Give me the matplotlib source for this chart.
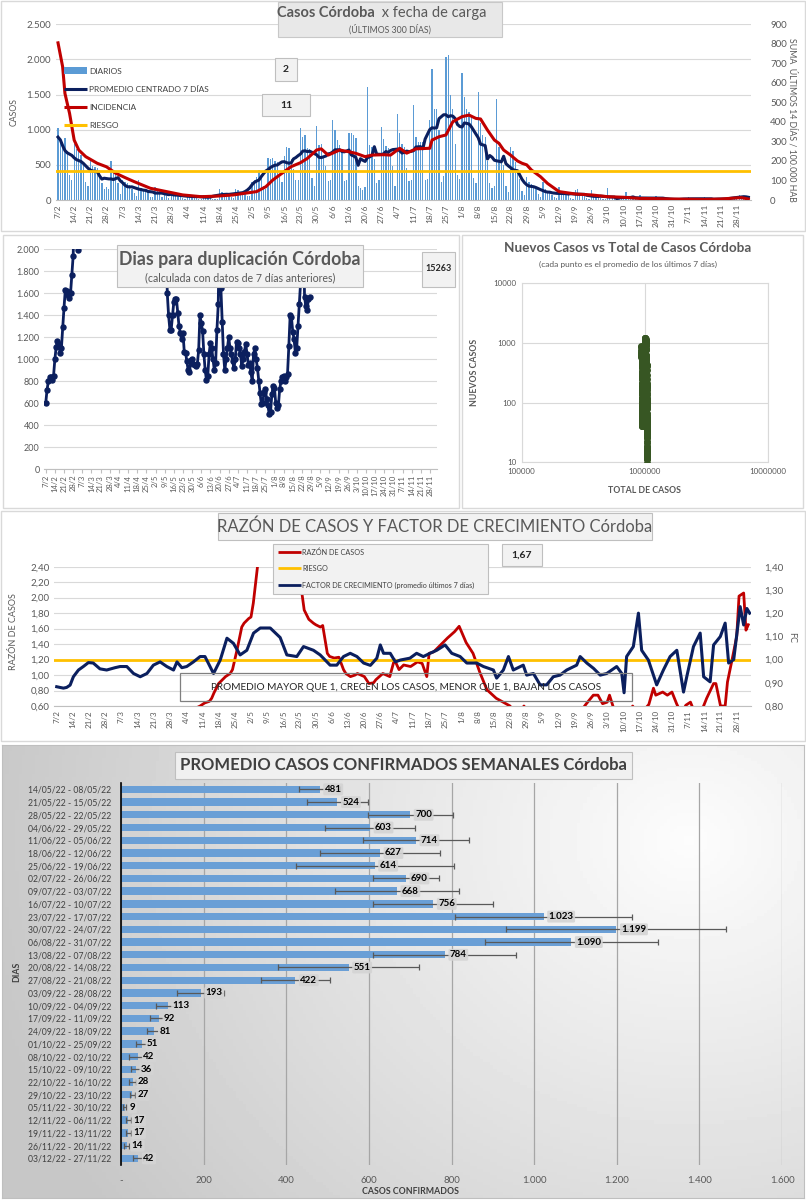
import numpy as np
import pandas as pd
import matplotlib
matplotlib.use('Agg')
import matplotlib.pyplot as plt
from matplotlib.patches import Rectangle
from matplotlib.lines import Line2D

plt.rcParams['font.family'] = ['Lato', 'DejaVu Sans']

W, H = 806, 1200

# %% data ---------------------------------------------------------------
start_date = '2022-02-07'

# casos diarios (fecha de carga), 300 dias desde 7/2
daily_cases = [
    1020, 850, 830, 880, 700, 360,
    290, 790, 720, 700, 640, 520, 260,
    200, 600, 480, 470, 450, 430, 240,
    150, 180, 160, 560, 420, 390, 240,
    90, 280, 250, 240, 220, 150, 100,
    60, 290, 170, 160, 150, 110, 40,
    40, 180, 150, 130, 40, 110, 50,
    25, 120, 95, 90, 80, 50, 30,
    20, 80, 70, 65, 60, 35, 20,
    15, 75, 60, 55, 35, 20, 20,
    20, 160, 110, 90, 80, 60, 40,
    30, 150, 140, 120, 110, 90, 60,
    60, 260, 290, 330, 420, 330, 200,
    150, 600, 590, 600, 560, 540, 327,
    250, 620, 760, 740, 580, 440, 278,
    280, 1020, 890, 930, 740, 730, 310,
    200, 1060, 780, 800, 630, 480, 271,
    280, 1140, 990, 850, 780, 690, 268,
    290, 960, 960, 930, 880, 200, 169,
    140, 180, 1610, 780, 760, 580, 248,
    290, 1040, 870, 770, 740, 640, 480,
    200, 1230, 960, 800, 760, 460, 266,
    280, 1350, 900, 830, 830, 820, 282,
    300, 1140, 1870, 1300, 1300, 1000, 251,
    340, 2040, 2060, 1500, 1300, 800, 353,
    300, 1800, 1470, 1300, 1250, 1200, 310,
    240, 1530, 1100, 920, 900, 560, 238,
    170, 200, 1440, 750, 600, 500, 197,
    110, 760, 700, 540, 420, 300, 124,
    70, 330, 260, 230, 200, 170, 91,
    40, 250, 150, 130, 110, 70, 41,
    30, 180, 120, 110, 100, 70, 34,
    20, 140, 150, 90, 80, 60, 27,
    15, 140, 60, 50, 45, 30, 17,
    10, 170, 40, 30, 25, 10, 9,
    8, 10, 120, 50, 35, 20, 9,
    6, 70, 40, 30, 25, 17, 8,
    5, 60, 40, 35, 25, 16, 8,
    2, 20, 12, 10, 10, 6, 3,
    3, 40, 25, 20, 15, 10, 6,
    3, 45, 22, 20, 15, 10, 4,
    2, 5, 35, 22, 18, 12, 4,
    10, 60, 70, 50, 45, 40, 19,
]

# incidencia 14 dias / 100.000 hab (eje derecho)
inc_days = [0, 2, 3, 5, 7, 9, 12, 17, 21, 25, 29, 33, 40, 47, 54, 62, 69, 76, 80, 86,
            90, 93, 97, 101, 105, 108, 112, 114, 117, 122, 126, 129, 133, 136, 141, 144,
            148, 151, 155, 161, 162, 165, 168, 171, 175, 178, 181, 183, 186, 189, 191,
            193, 196, 199, 201, 203, 205, 209, 212, 217, 224, 231, 238, 245, 252, 259,
            266, 273, 280, 287, 293, 296, 299]
inc_vals = [805, 683, 546, 444, 307, 256, 222, 188, 170, 137, 115, 94, 60, 43, 26, 17, 20, 26, 33, 43,
            68, 102, 137, 171, 191, 213, 256, 262, 230, 256, 247, 239, 222, 230, 232, 230,
            265, 240, 262, 265, 307, 324, 333, 401, 427, 435, 418, 415, 358, 307, 290,
            256, 230, 200, 188, 180, 154, 119, 85, 43, 31, 26, 17, 14, 8, 7,
            5, 4, 3, 5, 10, 12, 5]
riesgo_inc = 150

nan = np.nan
# dias para duplicacion (2400 = fuera de escala)
doubling_days = (
    [600, 720, 800, 835, 840, 810, 850, 1000, 1110, 1170, 1140, 1060, 1100, 1290, 1470,
     1630, 1620, 1580, 1560, 1600, 1770, 1940, 2400, 2400, 2400, 1990, 2400]
    + [nan] * 65 + [2400]
    + [1600, 1400, 1270, 1270, 1400, 1520, 1550, 1550, 1420, 1300,
       1240, 1180, 1240, 1070, 1060, 980, 900, 880, 990, 1000,
       960, 950, 940, 960, 1080, 1400, 1330, 1260, 1050, 900,
       810, 850, 1050, 1150, 1100, 1000, 900, 970, 1270, 1500,
       2400, 1650, 1340, 1050, 900, 1000, 1100, 1200, 1100, 1050,
       980, 920, 1000, 1160, 1150, 1100, 1050, 940, 1000, 1070,
       1140, 1050, 950, 970, 880, 800, 1050, 1100, 1000, 920,
       800, 690, 590, 600, 700, 730, 640, 580, 500, 520,
       680, 760, 740, 600, 560, 580, 730, 800, 840, 850,
       800, 840, 870, 1120, 1400, 1380, 1250, 1180, 1060, 1100,
       1300, 1500, 1700, 2400, 2400, 1570, 1480, 1450, 1550, 1570]
    + [nan] * 97
)

total_cases_start = 935000

# razon de casos (eje izq) y factor de crecimiento (eje der)
ratio_days = [55, 60, 62, 64, 66, 67, 68, 70, 72, 73, 75, 76, 78, 80, 81, 83, 84, 85, 87, 90,
              95, 100, 104, 106, 107, 109, 111, 112, 114, 115, 117, 118, 120, 122, 124, 125,
              127, 129, 130, 133, 135, 137, 138, 141, 144, 146, 148, 150, 153, 156, 158, 160,
              161, 163, 166, 169, 172, 174, 177, 180, 183, 186, 190, 193, 196, 198, 200, 202,
              204, 210, 220, 227, 229, 232, 234, 236, 238, 239, 241, 248, 249, 251, 254, 256,
              258, 259, 262, 264, 266, 268, 270, 272, 274, 276, 279, 281, 284, 285, 287, 289,
              290, 292, 294, 295, 297, 298, 299]
ratio_vals = [0.45, 0.57, 0.60, 0.64, 0.66, 0.70, 0.77, 0.89, 0.95, 0.98, 1.02, 1.07, 1.33, 1.62,
              1.67, 1.73, 1.75, 1.93, 2.45, 2.90, 3.20, 3.00, 2.50, 2.06, 1.84, 1.72, 1.67, 1.65,
              1.62, 1.64, 1.28, 1.24, 1.22, 1.23, 1.07, 1.02, 0.98, 1.00, 1.02, 0.98, 0.89, 0.90,
              0.94, 1.02, 0.98, 1.20, 1.07, 1.13, 1.11, 1.17, 1.15, 0.98, 1.28, 1.30, 1.39, 1.48,
              1.56, 1.63, 1.42, 1.28, 1.03, 0.81, 0.70, 0.65, 0.60, 0.50, 0.50, 0.60, 0.50, 0.45,
              0.45, 0.55, 0.63, 0.74, 0.74, 0.63, 0.65, 0.74, 0.55, 0.50, 0.60, 0.50, 0.55, 0.62,
              0.83, 0.74, 0.78, 0.74, 0.78, 0.63, 0.50, 0.61, 0.65, 0.50, 0.55, 0.70, 0.89, 0.89,
              0.60, 0.60, 0.91, 1.20, 1.50, 2.02, 2.06, 1.58, 1.65]
riesgo_ratio = 1.20

growth_days = [0, 1.4, 2.9, 4.3, 5.8, 7.2, 9.4, 11.5, 13.7, 15.8, 18.7, 21.6, 25.2, 27.4, 30.3,
               33.2, 36.1, 39, 41.8, 44.7, 47.6, 50.5, 52, 54.1, 56.2, 59.1, 62, 64.1, 67.8,
               70.7, 73.6, 76.4, 79.3, 82.2, 85.1, 88, 92.3, 96.6, 99.5, 103.8, 106.7, 111,
               113.9, 118.2, 121.1, 124, 126.9, 129.8, 132.7, 135.6, 138.4, 139.9, 141.3,
               144.2, 146.4, 148.6, 152.7, 155.6, 158.5, 161.4, 164.3, 167.9, 170.8, 174.4,
               177.3, 181.6, 184.5, 188.8, 190.2, 193.1, 195.3, 197.4, 201.7, 203.2, 206.1,
               209, 211.8, 214.7, 217.6, 220.5, 224.8, 226.3, 229.2, 232.1, 235, 237.8, 242.1,
               244.3, 245.3, 246.4, 249.3, 251.5, 252.9, 255.8, 259.4, 262.3, 265.2, 268.1,
               271, 272.4, 275.3, 278.2, 279.7, 282.5, 284, 286.9, 289, 290.5, 292.7, 295.5,
               297, 298.4, 299.6]
growth_vals = [0.883, 0.88, 0.877, 0.88, 0.89, 0.926, 0.955, 0.97, 0.987, 0.985, 0.96, 0.955,
               0.965, 0.97, 0.97, 0.94, 0.926, 0.94, 0.976, 0.99, 0.97, 0.955, 0.99, 0.965, 0.97,
               0.99, 1.013, 1.013, 0.94, 0.998, 1.092, 1.07, 1.02, 1.04, 1.114, 1.136, 1.136,
               1.095, 1.02, 1.013, 1.056, 1.04, 1.02, 0.976, 0.976, 1.013, 1.027, 1.013, 0.985,
               0.975, 1.006, 1.063, 1.027, 1.027, 0.99, 0.998, 1.006, 1.027, 1.013, 1.027, 1.04,
               1.063, 1.027, 1.013, 0.985, 0.985, 0.97, 0.955, 0.92, 0.955, 1.013, 0.955, 0.976,
               0.933, 0.94, 0.891, 0.891, 0.926, 0.933, 0.955, 0.976, 1.013, 0.985, 0.962, 0.933,
               0.94, 0.97, 0.94, 0.857, 1.013, 1.056, 1.2, 1.04, 0.998, 0.891, 0.955, 1.013,
               1.04, 0.86, 0.926, 1.056, 1.114, 0.926, 0.904, 1.063, 1.099, 1.157, 0.985, 1.0,
               1.228, 1.149, 1.22, 1.2]

# promedio semanal (domingo a sabado)
week_labels = [
    '14/05/22 - 08/05/22', '21/05/22 - 15/05/22', '28/05/22 - 22/05/22', '04/06/22 - 29/05/22',
    '11/06/22 - 05/06/22', '18/06/22 - 12/06/22', '25/06/22 - 19/06/22', '02/07/22 - 26/06/22',
    '09/07/22 - 03/07/22', '16/07/22 - 10/07/22', '23/07/22 - 17/07/22', '30/07/22 - 24/07/22',
    '06/08/22 - 31/07/22', '13/08/22 - 07/08/22', '20/08/22 - 14/08/22', '27/08/22 - 21/08/22',
    '03/09/22 - 28/08/22', '10/09/22 - 04/09/22', '17/09/22 - 11/09/22', '24/09/22 - 18/09/22',
    '01/10/22 - 25/09/22', '08/10/22 - 02/10/22', '15/10/22 - 09/10/22', '22/10/22 - 16/10/22',
    '29/10/22 - 23/10/22', '05/11/22 - 30/10/22', '12/11/22 - 06/11/22', '19/11/22 - 13/11/22',
    '26/11/22 - 20/11/22', '03/12/22 - 27/11/22']
week_means = [481, 524, 700, 603, 714, 627, 614, 690, 668, 756, 1023, 1199, 1090, 784, 551,
              422, 193, 113, 92, 81, 51, 42, 36, 28, 27, 9, 17, 17, 14, 42]
week_err = [50, 73, 103, 109, 128, 146, 191, 79, 149, 145, 215, 266, 210, 173, 170, 84, 57,
            29, 22, 19, 15, 22, 13, 9, 6, 3, 6, 6, 6, 12]

# %% colores / helpers --------------------------------------------------
BAR_BLUE = '#5b9bd5'
NAVY = '#0b1f5e'
RED = '#c00000'
ORANGE = '#ffc000'
TXT = '#595959'
GRID = '#d9d9d9'
GREEN = '#375623'


def ax_rect(x0, y0, x1, y1):
    return [x0 / W, 1 - y1 / H, (x1 - x0) / W, (y1 - y0) / H]


def fig_box(x0, y0, x1, y1, fc='#f2f2f2', ec='#bfbfbf', lw=0.8, z=5):
    fig.add_artist(Rectangle((x0 / W, 1 - y1 / H), (x1 - x0) / W, (y1 - y0) / H,
                             transform=fig.transFigure, fc=fc, ec=ec, lw=lw, zorder=z))


def fig_text(x, y, s, **kw):
    kw.setdefault('zorder', 7)
    fig.text(x / W, 1 - y / H, s, **kw)


def fig_line(x0, x1, y, color, lw=2):
    fig.add_artist(Line2D([x0 / W, x1 / W], [1 - y / H] * 2, transform=fig.transFigure,
                          color=color, lw=lw, zorder=7, solid_capstyle='butt'))


def miles(v):
    return f'{v:,.0f}'.replace(',', '.')


def coma(v):
    return f'{v:.2f}'.replace('.', ',')


days = np.arange(len(daily_cases))
dates = pd.date_range(start_date, periods=len(daily_cases), freq='D')
tick_days = days[::7]
tick_labels = [f'{d.day}/{d.month}' for d in dates[::7]]
navy_avg = pd.Series(daily_cases).rolling(7, center=True, min_periods=4).mean()

fig = plt.figure(figsize=(8.06, 12), dpi=100)

# marcos de cada panel
for bx in [(1, 1, 805, 231), (3, 235, 459, 508), (462, 235, 803, 508), (1, 511, 805, 741)]:
    fig_box(*bx, fc='none', ec='#d9d9d9', lw=1, z=4)

# %% panel 1: casos x fecha de carga -----------------------------------
ax1 = fig.add_axes(ax_rect(55.7, 24.3, 750.7, 200))
ax1.bar(days, daily_cases, width=0.55, color=BAR_BLUE, zorder=2)
ax1.plot(days, navy_avg, color=NAVY, lw=2.2, zorder=3)
ax1.set_xlim(-1, 300)
ax1.set_ylim(0, 2500)
ax1.set_yticks(range(0, 2501, 500))
ax1.set_yticklabels([miles(v) for v in range(0, 2501, 500)])
ax1.set_xticks(tick_days)
ax1.set_xticklabels(tick_labels, rotation=90)
ax1.yaxis.grid(True, color=GRID, lw=0.8)
ax1.set_axisbelow(True)
ax1.tick_params(axis='both', length=0, colors=TXT, labelsize=7)
ax1.tick_params(axis='x', labelsize=6, pad=3)
for s in ['top', 'left', 'right']:
    ax1.spines[s].set_visible(False)
ax1.spines['bottom'].set_color('#bfbfbf')
fig_text(14, 112, 'CASOS', rotation=90, ha='center', va='center', fontsize=6.3, color=TXT)

ax1r = ax1.twinx()
ax1r.plot(inc_days, inc_vals, color=RED, lw=2.2, zorder=3)
ax1r.axhline(riesgo_inc, color=ORANGE, lw=2, zorder=4)
ax1r.set_ylim(0, 900)
ax1r.set_yticks(range(0, 901, 100))
ax1r.tick_params(length=0, colors=TXT, labelsize=7, pad=14)
for s in ['top', 'left', 'right', 'bottom']:
    ax1r.spines[s].set_visible(False)
fig_text(792, 120, 'SUMA  ÚLTIMOS 14 DÍAS / 100.000 HAB', rotation=270, ha='center',
         va='center', fontsize=6.3, color=TXT)

fig_box(278, 2, 502, 37, fc='#e8e8e8', ec='#c8c8c8')
fig_text(375, 13, 'Casos Córdoba', ha='right', va='center', fontsize=10.5,
         fontweight='bold', color=TXT)
fig_text(378, 13, ' x fecha de carga', ha='left', va='center', fontsize=10.5, color=TXT)
fig_text(390, 29, '(ÚLTIMOS 300 DÍAS)', ha='center', va='center', fontsize=6.3, color=TXT)
fig_box(275, 58, 297, 81, fc='#f2f2f2', ec='#bfbfbf')
fig_text(286, 69.5, '2', ha='center', va='center', fontsize=7.5, fontweight='bold', color='#262626')
fig_box(262, 94, 310, 116, fc='#f2f2f2', ec='#bfbfbf')
fig_text(286, 105, '11', ha='center', va='center', fontsize=7.5, fontweight='bold', color='#262626')

# leyenda panel 1
fig.add_artist(Rectangle((64 / W, 1 - 74 / H), 23 / W, 7 / H, transform=fig.transFigure,
                         fc=BAR_BLUE, ec='none', zorder=7))
fig_text(89, 71, 'DIARIOS', va='center', fontsize=6, color='#404040')
fig_line(64, 87, 89, NAVY, 2.2)
fig_text(89, 89, 'PROMEDIO CENTRADO 7 DÍAS', va='center', fontsize=6, color='#404040')
fig_line(64, 87, 107, RED, 2.2)
fig_text(89, 107, 'INCIDENCIA', va='center', fontsize=6, color='#404040')
fig_line(64, 87, 125, ORANGE, 2.2)
fig_text(89, 125, 'RIESGO', va='center', fontsize=6, color='#404040')

# %% panel 2a: dias para duplicacion -----------------------------------
ax2 = fig.add_axes(ax_rect(44.4, 249.3, 437.2, 469.3))
ax2.plot(days, doubling_days, '-o', color=NAVY, lw=2, ms=3.6, zorder=3)
ax2.set_xlim(-1, 299.5)
ax2.set_ylim(0, 2000)
ax2.set_yticks(range(0, 2001, 200))
ax2.set_yticklabels([miles(v) for v in range(0, 2001, 200)])
ax2.set_xticks(tick_days)
ax2.set_xticklabels(tick_labels, rotation=90)
ax2.yaxis.grid(True, color=GRID, lw=0.8)
ax2.set_axisbelow(True)
ax2.tick_params(axis='y', length=0, colors=TXT, labelsize=6.5)
ax2.tick_params(axis='x', length=3, color='#bfbfbf', colors=TXT, labelsize=5.5, pad=1)
for s in ['top', 'left', 'right']:
    ax2.spines[s].set_visible(False)
ax2.spines['bottom'].set_color('#bfbfbf')

fig_box(117, 245, 363, 287, fc='#f2f2f2', ec='#bfbfbf')
fig_text(240, 259, 'Dias para duplicación Córdoba', ha='center', va='center', fontsize=12.8,
         fontweight='bold', color=TXT)
fig_text(240, 278, '(calculada con datos de 7 días anteriores)', ha='center', va='center',
         fontsize=7.6, color=TXT)
fig_box(422, 252, 455, 287, fc='#f2f2f2', ec='#bfbfbf')
fig_text(438.5, 268, '15263', ha='center', va='center', fontsize=6.5, fontweight='bold',
         color='#262626')

# %% panel 2b: nuevos casos vs total -----------------------------------
ax3 = fig.add_axes(ax_rect(521.7, 283.3, 767.7, 462.3))
total_cases = total_cases_start + np.cumsum(daily_cases)
ax3.scatter(total_cases, navy_avg, s=16, color=GREEN, zorder=3)
ax3.set_xscale('log')
ax3.set_yscale('log')
ax3.set_xlim(1e5, 1e7)
ax3.set_ylim(10, 1e4)
ax3.set_xticks([1e5, 1e6, 1e7])
ax3.set_xticklabels(['100000', '1000000', '10000000'])
ax3.set_yticks([10, 100, 1000, 10000])
ax3.set_yticklabels(['10', '100', '1000', '10000'])
ax3.minorticks_off()
ax3.grid(True, color=GRID, lw=0.8)
ax3.set_axisbelow(True)
ax3.tick_params(length=0, colors=TXT, labelsize=5.8, pad=4)
for s in ax3.spines.values():
    s.set_color('#d9d9d9')
ax3.set_ylabel('NUEVOS CASOS', fontsize=6.3, fontweight='bold', color=TXT, labelpad=10)
ax3.set_xlabel('TOTAL DE CASOS', fontsize=6.3, fontweight='bold', color=TXT, labelpad=8)
fig_text(628, 248, 'Nuevos Casos vs Total de Casos Córdoba', ha='center', va='center',
         fontsize=9.7, fontweight='bold', color=TXT)
fig_text(628, 264, '(cada punto es el promedio de los últimos 7 días)', ha='center',
         va='center', fontsize=6, color=TXT)

# %% panel 3: razon de casos y factor de crecimiento -------------------
ax4 = fig.add_axes(ax_rect(54.4, 566.7, 750.6, 706))
ax4.plot(ratio_days, ratio_vals, color=RED, lw=2, zorder=3)
ax4.axhline(riesgo_ratio, color=ORANGE, lw=2, zorder=4)
ax4.set_xlim(-1, 300)
ax4.set_ylim(0.6, 2.4)
yt = np.arange(0.6, 2.41, 0.2)
ax4.set_yticks(yt)
ax4.set_yticklabels([coma(v) for v in yt])
ax4.set_xticks(tick_days)
ax4.set_xticklabels(tick_labels, rotation=90)
ax4.yaxis.grid(True, color=GRID, lw=0.8)
ax4.set_axisbelow(True)
ax4.tick_params(axis='both', length=0, colors=TXT, labelsize=7)
ax4.tick_params(axis='x', labelsize=5.8, pad=3)
for s in ['top', 'left', 'right']:
    ax4.spines[s].set_visible(False)
ax4.spines['bottom'].set_color('#bfbfbf')
fig_text(14, 632, 'RAZÓN DE CASOS', rotation=90, ha='center', va='center', fontsize=6.5,
         color=TXT)

ax4r = ax4.twinx()
ax4r.plot(growth_days, growth_vals, color=NAVY, lw=2.2, zorder=5)
ax4r.set_ylim(0.8, 1.4)
yt2 = np.arange(0.8, 1.41, 0.1)
ax4r.set_yticks(yt2)
ax4r.set_yticklabels([coma(v) for v in yt2])
ax4r.tick_params(length=0, colors=TXT, labelsize=7, pad=10)
for s in ['top', 'left', 'right', 'bottom']:
    ax4r.spines[s].set_visible(False)
fig_text(792, 637, 'FC', rotation=270, ha='center', va='center', fontsize=6.5, color=TXT)

fig_box(218, 513, 652, 540, fc='#f2f2f2', ec='#bfbfbf')
fig_text(435, 527, 'RAZÓN DE CASOS Y FACTOR DE CRECIMIENTO Córdoba', ha='center',
         va='center', fontsize=12, color=TXT)
fig_box(273, 544, 488, 594, fc='#f2f2f2', ec='#bfbfbf')
fig_line(278, 301, 552, RED, 2)
fig_text(302, 552, 'RAZÓN DE CASOS', va='center', fontsize=5.2, color='#404040')
fig_line(278, 301, 568, ORANGE, 2)
fig_text(302, 568, 'RIESGO', va='center', fontsize=5.2, color='#404040')
fig_line(278, 301, 585, NAVY, 2)
fig_text(302, 585, 'FACTOR DE CRECIMIENTO (promedio últimos 7 días)', va='center',
         fontsize=5.2, color='#404040')
fig_box(502, 544, 542, 566, fc='#f2f2f2', ec='#bfbfbf')
fig_text(522, 555, '1,67', ha='center', va='center', fontsize=7.5, fontweight='bold',
         color='#262626')
fig_box(180, 673, 632, 701, fc='none', ec='#7f7f7f', lw=0.9)
fig_text(406, 687, 'PROMEDIO MAYOR QUE 1, CRECEN LOS CASOS, MENOR QUE 1, BAJAN LOS CASOS',
         ha='center', va='center', fontsize=7.2, color='#262626')

# %% panel 4: promedio casos confirmados semanales ---------------------
bg = fig.add_axes(ax_rect(2, 745, 804, 1198))
gx, gy = np.meshgrid(np.linspace(2, 804, 240), np.linspace(745, 1198, 140))
dist = np.hypot(gx - 690, (gy - 840) * 1.15)
shade = 0.99 - 0.21 * np.clip(dist / 720, 0, 1)
bg.imshow(shade, cmap='gray', vmin=0, vmax=1, extent=(0, 1, 0, 1), aspect='auto')
bg.set_xticks([])
bg.set_yticks([])
for s in bg.spines.values():
    s.set_color('#bfbfbf')

ax5 = fig.add_axes(ax_rect(121, 783, 782, 1164.7))
ax5.set_facecolor('none')
ypos = np.arange(len(week_means))
ax5.barh(ypos, week_means, height=0.58, color='#6a9fd6', zorder=2)
ax5.errorbar(week_means, ypos, xerr=week_err, fmt='none', ecolor='#595959', elinewidth=0.9,
             capsize=2.5, capthick=0.9, zorder=3)
for v, yy in zip(week_means, ypos):
    ax5.annotate(miles(v), (v, yy), xytext=(5, 0), textcoords='offset pixels', ha='left',
                 va='center', fontsize=7, fontweight='bold', color='black', zorder=4,
                 bbox=dict(boxstyle='round,pad=0.15', fc='#d4d4d4', ec='none', alpha=0.9))
ax5.set_xlim(0, 1600)
ax5.set_ylim(len(week_means) - 0.5, -0.5)
ax5.set_yticks(ypos)
ax5.set_yticklabels(week_labels)
xt = list(range(0, 1601, 200))
ax5.set_xticks(xt)
ax5.set_xticklabels(['-'] + [miles(v) for v in xt[1:]])
ax5.xaxis.grid(True, color='#a6a6a6', lw=0.9)
ax5.set_axisbelow(True)
ax5.tick_params(axis='y', length=0, colors='#404040', labelsize=6.2, pad=7)
ax5.tick_params(axis='x', length=0, colors=TXT, labelsize=7, pad=8)
for s in ['top', 'right', 'bottom']:
    ax5.spines[s].set_visible(False)
ax5.spines['left'].set_color('black')
ax5.spines['left'].set_linewidth(1.2)
fig_text(17, 972, 'DIAS', rotation=90, ha='center', va='center', fontsize=6.3,
         fontweight='bold', color='#404040')
fig_text(410, 1191, 'CASOS CONFIRMADOS', ha='center', va='center', fontsize=6.3,
         fontweight='bold', color='#404040')
fig_box(175, 752, 632, 779, fc='#f0f0f0', ec='#bfbfbf')
fig_text(403, 765.5, 'PROMEDIO CASOS CONFIRMADOS SEMANALES Córdoba', ha='center',
         va='center', fontsize=12, fontweight='bold', color='#404040')

fig.savefig('out.png', dpi=100)
